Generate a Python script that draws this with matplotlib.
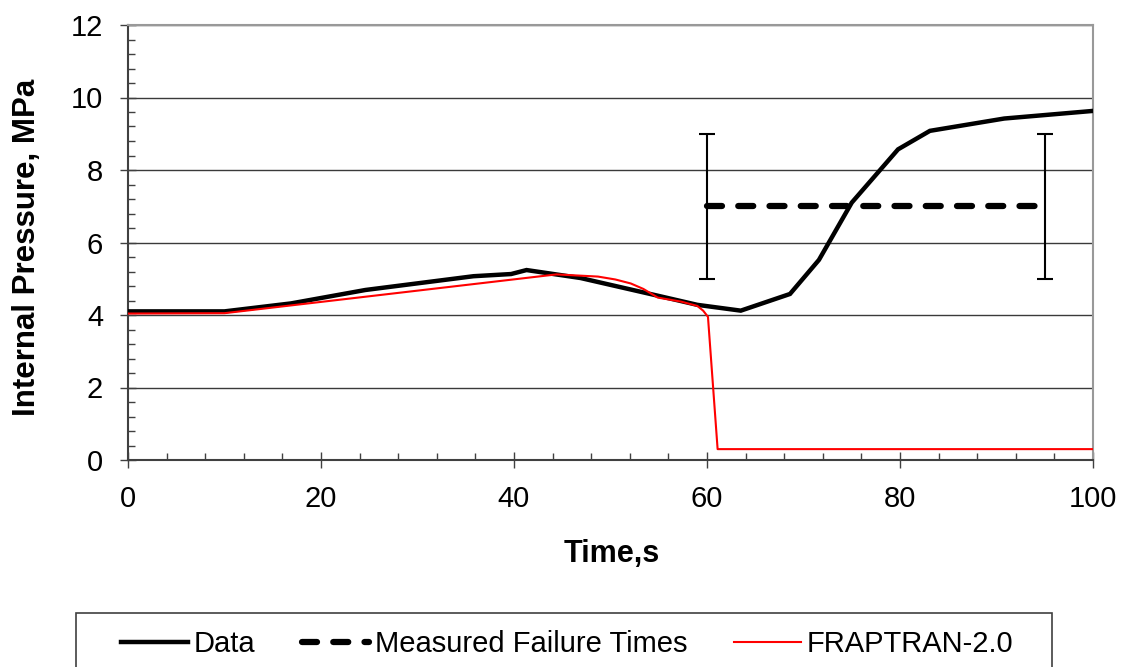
import matplotlib
matplotlib.use("Agg")
import matplotlib.pyplot as plt
from matplotlib.lines import Line2D
from matplotlib.patches import Rectangle
from matplotlib.ticker import MultipleLocator
from matplotlib import font_manager

# measured pressure history
data_t = [0, 10, 16.9, 24.6, 35.8, 39.7, 41.3, 46.9, 55.1, 59.0, 63.5,
          68.6, 71.6, 75.0, 79.8, 83.1, 90.8, 100]
data_p = [4.1, 4.1, 4.32, 4.69, 5.07, 5.13, 5.24, 5.02, 4.52, 4.28, 4.12,
          4.58, 5.52, 7.1, 8.57, 9.08, 9.42, 9.63]

# FRAPTRAN-2.0 calculation
frap_t = [0, 10, 44.4, 48.7, 50.5, 52.1, 53.4, 54.9, 57.3, 59.0, 59.6,
          60.1, 61.1, 100]
frap_p = [4.04, 4.05, 5.12, 5.06, 4.98, 4.87, 4.72, 4.48, 4.37, 4.25, 4.12,
          3.95, 0.3, 0.3]

# measured failure times, with their pressure band
fail_t = [60, 95]
fail_p = [7, 7]
fail_err = [2, 2]

base = "Liberation Sans"
names = {f.name for f in font_manager.fontManager.ttflist}
narrow = "Liberation Sans Narrow" if "Liberation Sans Narrow" in names else base
plt.rcParams["font.family"] = [base, "DejaVu Sans"]

W, H = 1125, 667
fig = plt.figure(figsize=(W / 100, H / 100), dpi=100)
ax = fig.add_axes([128 / W, 1 - 460 / H, (1093 - 128) / W, (460 - 25) / H])

ax.plot(data_t, data_p, color="black", lw=3.2, solid_joinstyle="miter", zorder=3)
ax.errorbar(fail_t, fail_p, yerr=fail_err, fmt="none", ecolor="black",
            elinewidth=1.5, capsize=6, capthick=1.5, zorder=3)
ax.plot(fail_t, fail_p, color="black", lw=4.5, dashes=(2.4, 2.6),
        dash_capstyle="round", zorder=4)
ax.plot(frap_t, frap_p, color="#ff0000", lw=1.5, zorder=5)

ax.set_xlim(0, 100)
ax.set_ylim(0, 12)
ax.xaxis.set_major_locator(MultipleLocator(20))
ax.xaxis.set_minor_locator(MultipleLocator(4))
ax.yaxis.set_major_locator(MultipleLocator(2))
ax.yaxis.set_minor_locator(MultipleLocator(0.4))
ax.grid(axis="y", which="major", color="#3a3a3a", lw=1.0)
ax.set_axisbelow(True)

for s in ["left", "bottom"]:
    ax.spines[s].set_color("#404040")
    ax.spines[s].set_linewidth(1.5)
for s in ["top", "right"]:
    ax.spines[s].set_color("#999999")
    ax.spines[s].set_linewidth(1.5)

ax.tick_params(which="major", direction="inout", length=12, width=1.0,
               color="#404040", labelsize=21, pad=12)
ax.tick_params(which="minor", direction="in", length=5, width=1.0,
               color="#404040")
ax.tick_params(top=False, right=False, which="both")

fig.text(612 / W, 1 - 554 / H, "Time,s", fontsize=22, fontweight="bold",
         ha="center", va="center")
fig.text(27 / W, 1 - 247 / H, "Internal Pressure, MPa", fontsize=22.5,
         fontweight="bold", ha="center", va="center", rotation=90)

handles = [
    Line2D([], [], color="black", lw=3.2),
    Line2D([], [], color="black", lw=4.5, dashes=(2.4, 2.6), dash_capstyle="round"),
    Line2D([], [], color="#ff0000", lw=1.5),
]
labels = ["Data", "Measured Failure Times", "FRAPTRAN-2.0"]
fig.legend(handles, labels, loc="upper center", ncol=3,
           bbox_to_anchor=(567 / W, 1 - 613 / H),
           prop={"family": [narrow, base], "size": 21},
           frameon=False, handlelength=2.3, handletextpad=0.2,
           columnspacing=1.6, borderpad=0.6, borderaxespad=0)
# legend box runs off the bottom edge of the figure
fig.patches.append(Rectangle((76 / W, -0.02), (1052 - 76) / W, 0.02 + 1 - 613 / H,
                             transform=fig.transFigure, fill=False,
                             edgecolor="#404040", lw=1.2))

fig.savefig("out.png", dpi=100)
